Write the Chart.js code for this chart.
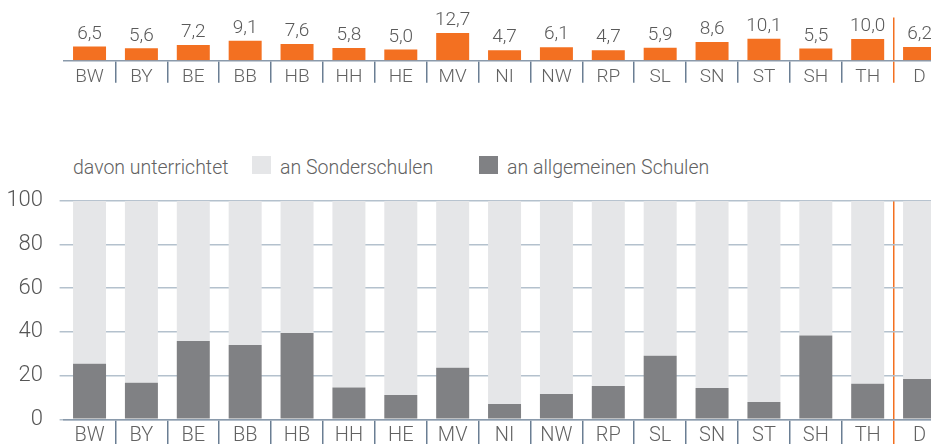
<!DOCTYPE html>
<html>
<head>
<meta charset="utf-8">
<script src="https://cdn.jsdelivr.net/npm/chart.js@4"></script>
<style>
  body { margin: 0; width: 931px; height: 444px; overflow: hidden; background: #fff; position: relative; font-family: Roboto, "Liberation Sans", sans-serif; font-weight: 300; color: #626262; }
  canvas { position: absolute; left: 0; }
  #top { top: 0; }
  #bottom { top: 190px; }
  .legend { position: absolute; top: 158px; font-size: 19.5px; line-height: 19px; white-space: nowrap; }
  .box { position: absolute; top: 156px; width: 19px; height: 18px; }
</style>
</head>
<body>
<canvas id="top" width="950" height="90"></canvas>
<div class="legend" style="left:73px">davon unterrichtet</div>
<div class="box" style="left:252px;background:#e5e6e8"></div>
<div class="legend" style="left:280px">an Sonderschulen</div>
<div class="box" style="left:479px;background:#808184"></div>
<div class="legend" style="left:507px">an allgemeinen Schulen</div>
<canvas id="bottom" width="950" height="254"></canvas>
<script>
const categories = ["BW", "BY", "BE", "BB", "HB", "HH", "HE", "MV", "NI", "NW", "RP", "SL", "SN", "ST", "SH", "TH", "D"]
// Förderquote in %
const quote = [6.5, 5.6, 7.2, 9.1, 7.6, 5.8, 5.0, 12.7, 4.7, 6.1, 4.7, 5.9, 8.6, 10.1, 5.5, 10.0, 6.2]
// Anteil in %
const allgemein = [25.4, 16.7, 35.8, 34.0, 39.5, 14.5, 11.1, 23.6, 7.0, 11.6, 15.2, 29.1, 14.3, 7.9, 38.3, 16.3, 18.4]
const sonder = [74.6, 83.3, 64.2, 66.0, 60.5, 85.5, 88.9, 76.4, 93.0, 88.4, 84.8, 70.9, 85.7, 92.1, 61.7, 83.7, 81.6]
const yTicks = [0, 20, 40, 60, 80, 100]

const orange = "#f37021"
const slate = "#6a7e93"
const gridColor = "#b4c1cd"
const textColor = "#626262"
const fontFamily = "Roboto, 'Liberation Sans', sans-serif"

// separator colours: none at outer edges, orange before "D"
function sepColor(ctx) {
    if (ctx.index === 0 || ctx.index === categories.length) return "transparent"
    if (ctx.index === categories.length - 1) return orange
    return slate
}
function dLine(ctx) {
    return ctx.index === categories.length - 1 ? orange : "transparent"
}
// keep chart area exactly where the layout padding puts it
function noPad(scale) {
    scale.paddingTop = 0
    scale.paddingBottom = 0
    scale.paddingLeft = 0
    scale.paddingRight = 0
}

const valueLabels = {
    id: "valueLabels",
    afterDatasetsDraw(chart) {
        const c = chart.ctx
        c.save()
        c.font = "300 19px " + fontFamily
        c.fillStyle = "#5a5a5a"
        c.textAlign = "center"
        c.textBaseline = "bottom"
        chart.getDatasetMeta(0).data.forEach((bar, i) => {
            c.fillText(quote[i].toFixed(1).replace(".", ","), bar.x, bar.y - 3)
        })
        c.restore()
    },
}

new Chart(document.getElementById("top"), {
    type: "bar",
    data: {
        labels: categories,
        datasets: [{ data: quote, backgroundColor: orange, barPercentage: 0.636, categoryPercentage: 1 }],
    },
    options: {
        responsive: false,
        animation: false,
        events: [],
        layout: { padding: { left: 63.6, right: 4.5, top: 17.5, bottom: 0 } },
        scales: {
            x: {
                afterFit(scale) { scale.height = 29.7; noPad(scale) },
                grid: { color: dLine, tickColor: sepColor, tickLength: 22.5, lineWidth: 1.5 },
                border: { color: "#8a9aab", width: 1.5 },
                ticks: { color: textColor, font: { family: fontFamily, size: 19, weight: 300 }, padding: -17, maxRotation: 0, autoSkip: false },
            },
            y: { display: false, min: 0, max: 20 },
        },
        plugins: { legend: { display: false }, tooltip: { enabled: false } },
    },
    plugins: [valueLabels],
})

new Chart(document.getElementById("bottom"), {
    type: "bar",
    data: {
        labels: categories,
        datasets: [
            { label: "an allgemeinen Schulen", data: allgemein, backgroundColor: "#808184", barPercentage: 0.636, categoryPercentage: 1 },
            { label: "an Sonderschulen", data: sonder, backgroundColor: "#e5e6e8", barPercentage: 0.636, categoryPercentage: 1 },
        ],
    },
    options: {
        responsive: false,
        animation: false,
        events: [],
        layout: { padding: { left: 0, right: 4.5, top: 10.7, bottom: 0 } },
        scales: {
            x: {
                stacked: true,
                afterFit(scale) { scale.height = 24.7; noPad(scale) },
                grid: { color: dLine, tickColor: sepColor, tickLength: 25, lineWidth: 1.5 },
                border: { color: "#8a9aab", width: 1.5 },
                ticks: { color: textColor, font: { family: fontFamily, size: 20, weight: 300 }, padding: -20, maxRotation: 0, autoSkip: false },
            },
            y: {
                stacked: true,
                min: 0,
                max: 100,
                afterFit(scale) { scale.width = 63.6; noPad(scale) },
                afterBuildTicks(scale) { scale.ticks = yTicks.map((v) => ({ value: v })) },
                grid: { color: gridColor, tickColor: gridColor, tickLength: 4, lineWidth: 1.5 },
                border: { display: false },
                ticks: { color: "#555", font: { family: fontFamily, size: 22, weight: 300 }, padding: 16.6 },
            },
        },
        plugins: { legend: { display: false }, tooltip: { enabled: false } },
    },
})
</script>
</body>
</html>
